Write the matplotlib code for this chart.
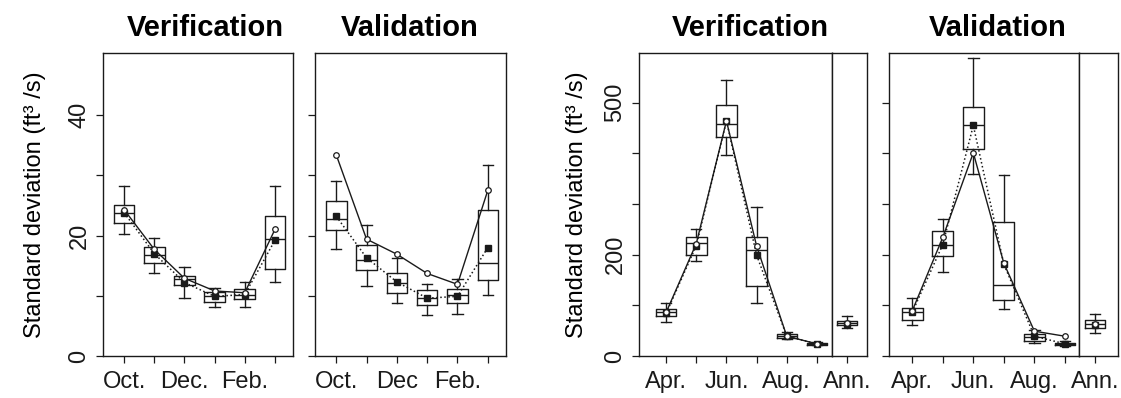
import matplotlib.pyplot as plt

plt.rcParams['font.family'] = ['Liberation Sans', 'DejaVu Sans']

# month labels
winter_labels = ['Oct.', '', 'Dec.', '', 'Feb.', '']
winter_labels_val = ['Oct.', '', 'Dec', '', 'Feb.', '']
summer_labels = ['Apr.', '', 'Jun.', '', 'Aug.', '']

# winter, verification (box stats + observed + mean)
wver_lo = [20.3, 13.8, 9.7, 8.1, 8.2, 12.3]
wver_q1 = [22.1, 15.4, 11.8, 9.0, 9.4, 14.4]
wver_med = [23.7, 16.7, 12.7, 10.0, 10.2, 19.4]
wver_q3 = [25.1, 18.1, 13.3, 10.7, 11.1, 23.2]
wver_hi = [28.2, 19.6, 14.8, 11.3, 12.3, 28.2]
wver_obs = [24.3, 17.7, 12.9, 10.8, 10.5, 21.0]
wver_mean = [23.8, 17.0, 12.2, 9.9, 10.2, 19.2]

# winter, validation
wval_lo = [17.8, 11.6, 8.8, 6.8, 7.0, 10.1]
wval_q1 = [20.9, 14.2, 10.5, 8.5, 8.8, 12.6]
wval_med = [22.8, 16.0, 12.1, 9.6, 10.1, 15.5]
wval_q3 = [25.8, 18.4, 13.7, 10.9, 11.1, 24.2]
wval_hi = [29.1, 21.8, 16.2, 11.9, 12.7, 31.7]
wval_obs = [33.4, 19.4, 16.9, 13.7, 11.9, 27.5]
wval_mean = [23.2, 16.3, 12.3, 9.6, 9.9, 18.0]

# summer, verification
sver_lo = [68, 188, 396, 105, 33, 21]
sver_q1 = [78, 199, 433, 139, 36, 22]
sver_med = [86, 224, 457, 209, 39, 24]
sver_q3 = [92, 234, 495, 234, 43, 26]
sver_hi = [104, 250, 545, 294, 47, 28]
sver_obs = [86, 222, 464, 217, 39, 24]
sver_mean = [84, 218, 464, 199, 39, 24]

# summer, validation
sval_lo = [61, 166, 360, 92, 26, 20]
sval_q1 = [71, 197, 409, 111, 30, 22]
sval_med = [86, 220, 456, 141, 38, 24]
sval_q3 = [95, 247, 492, 264, 44, 26]
sval_hi = [114, 270, 588, 357, 51, 29]
sval_obs = [89, 234, 401, 183, 49, 39]
sval_mean = [86, 220, 455, 181, 39, 24]

# annual boxes (lo, q1, med, q3, hi, obs, mean)
ann_ver = [55, 61, 66, 70, 79, 66, 64]
ann_val = [46, 55, 64, 71, 82, 63, 62]

W, H = 1121, 398
fig = plt.figure(figsize=(W / 100, H / 100), dpi=100)

FS = 17
LINE = '#1a1a1a'


def add_ax(x0, x1, y0=53, y1=356):
    return fig.add_axes([x0 / W, (H - y1) / H, (x1 - x0) / W, (y1 - y0) / H])


def make_stats(lo, q1, med, q3, hi):
    return [dict(whislo=a, q1=b, med=c, q3=d, whishi=e, fliers=[])
            for a, b, c, d, e in zip(lo, q1, med, q3, hi)]


def draw_boxes(ax, stats, pos, obs, mean, lines=True):
    lp = dict(color=LINE, linewidth=1.0)
    ax.bxp(stats, positions=pos, widths=0.68, capwidths=0.34,
           showfliers=False, manage_ticks=False,
           boxprops=lp, medianprops=lp, whiskerprops=lp, capprops=lp)
    ls_obs = '-' if lines else 'none'
    ls_mean = ':' if lines else 'none'
    ax.plot(pos, mean, linestyle=ls_mean, color=LINE, lw=1.1, marker='s',
            ms=4.5, mfc=LINE, mec=LINE, zorder=5)
    ax.plot(pos, obs, linestyle=ls_obs, color=LINE, lw=1.0, marker='o',
            ms=4, mfc='white', mec=LINE, mew=0.9, zorder=6)


def style(ax):
    for s in ax.spines.values():
        s.set_linewidth(1.0)
        s.set_color(LINE)
    ax.tick_params(direction='out', length=5, width=0.9, colors=LINE,
                   labelsize=FS, pad=6)
    ax.tick_params(axis='y', pad=4)


def title(xpix, text):
    fig.text(xpix / W, (H - 36) / H, text, fontsize=21, fontweight='bold',
             ha='center', va='baseline')


pos = [1, 2, 3, 4, 5, 6]

# ---- winter panels ----
ax1 = add_ax(103, 293)
draw_boxes(ax1, make_stats(wver_lo, wver_q1, wver_med, wver_q3, wver_hi),
           pos, wver_obs, wver_mean)
ax2 = add_ax(315, 506)
draw_boxes(ax2, make_stats(wval_lo, wval_q1, wval_med, wval_q3, wval_hi),
           pos, wval_obs, wval_mean)

for ax, labs in [(ax1, winter_labels), (ax2, winter_labels_val)]:
    ax.set_xlim(0.3, 6.6)
    ax.set_ylim(0, 50.3)
    ax.set_xticks(pos)
    ax.set_xticklabels(labs)
    ax.set_yticks([0, 10, 20, 30, 40])
    style(ax)
ax1.set_yticklabels(['0', '', '20', '', '40'], rotation=90, va='center')
ax2.set_yticklabels([])
ax1.set_ylabel('Standard deviation (ft³ /s)', fontsize=FS, labelpad=16)

# ---- summer panels ----
ax3 = add_ax(639, 832)
draw_boxes(ax3, make_stats(sver_lo, sver_q1, sver_med, sver_q3, sver_hi),
           pos, sver_obs, sver_mean)
ax3a = add_ax(832, 867)
ax4 = add_ax(889, 1079)
draw_boxes(ax4, make_stats(sval_lo, sval_q1, sval_med, sval_q3, sval_hi),
           pos, sval_obs, sval_mean)
ax4a = add_ax(1079, 1118)

for axa, vals, xl in [(ax3a, ann_ver, (0.5, 1.66)), (ax4a, ann_val, (0.47, 1.76))]:
    draw_boxes(axa, make_stats(*[[v] for v in vals[:5]]), [1],
               [vals[5]], [vals[6]], lines=False)
    axa.set_xlim(*xl)
    axa.set_ylim(0, 598)
    axa.set_xticks([1])
    axa.set_xticklabels(['Ann.'])
    axa.set_yticks([])
    style(axa)

for ax in [ax3, ax4]:
    ax.set_ylim(0, 598)
    ax.set_xticks(pos)
    ax.set_xticklabels(summer_labels)
    ax.set_yticks([0, 100, 200, 300, 400, 500])
    style(ax)
ax3.set_xlim(0.1, 6.5)
ax4.set_xlim(0.24, 6.46)
ax3.set_yticklabels(['0', '', '200', '', '', '500'], rotation=90, va='center')
ax4.set_yticklabels([])
ax3.set_ylabel('Standard deviation (ft³ /s)', fontsize=FS, labelpad=12)

title(205, 'Verification')
title(410, 'Validation')
title(750, 'Verification')
title(998, 'Validation')

fig.savefig('out.png', dpi=100)
